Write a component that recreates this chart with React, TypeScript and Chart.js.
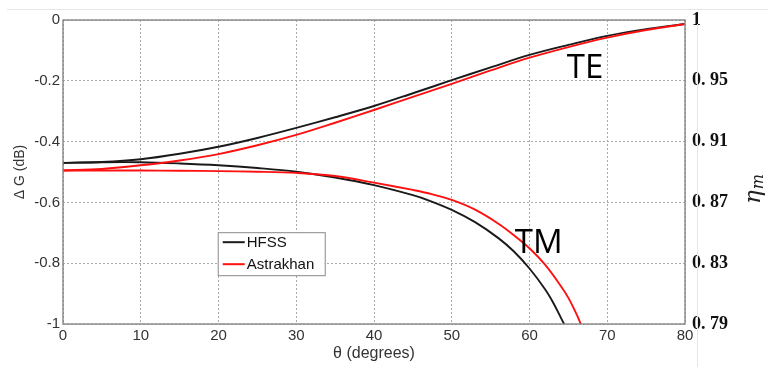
import React, { useEffect, useRef } from 'react';
import { Chart, registerables } from 'chart.js';

Chart.register(...registerables);

// ---- data ----
const teTheta = [0, 5, 10, 15, 20, 25, 30, 35, 40, 45, 50, 55, 60, 65, 70, 75, 80];
const teHfss = [-0.470, -0.467, -0.458, -0.440, -0.417, -0.388, -0.355, -0.320, -0.283, -0.241, -0.198, -0.156, -0.115, -0.082, -0.052, -0.030, -0.013];
const teAstrakhan = [-0.495, -0.490, -0.478, -0.462, -0.441, -0.412, -0.378, -0.338, -0.296, -0.253, -0.210, -0.166, -0.124, -0.089, -0.058, -0.033, -0.013];

const tmThetaHfss = [0, 5, 10, 15, 20, 25, 30, 35, 40, 45, 47, 50, 53, 56, 58, 60, 62, 63, 64, 64.45];
const tmHfss = [-0.470, -0.468, -0.468, -0.472, -0.478, -0.487, -0.499, -0.518, -0.543, -0.576, -0.593, -0.6245, -0.665, -0.7175, -0.7615, -0.8175, -0.8855, -0.9275, -0.9775, -1.0];

const tmThetaAstrakhan = [0, 5, 10, 15, 20, 25, 30, 35, 40, 45, 47, 50, 53, 56, 58, 60, 62, 64, 65, 66, 66.6];
const tmAstrakhan = [-0.495, -0.495, -0.495, -0.496, -0.497, -0.499, -0.503, -0.513, -0.535, -0.559, -0.570, -0.592, -0.624, -0.670, -0.708, -0.751, -0.805, -0.874, -0.914, -0.965, -1.0];

const seriesNames = ['HFSS', 'Astrakhan'];
const seriesColors = ['#1a1a1a', '#ff1010'];
const rightTickLabels = ['0. 79', '0. 83', '0. 87', '0. 91', '0. 95', '1'];
const modeLabels = ['TE', 'TM'];

const pts = (xs: number[], ys: number[]) => xs.map((x, i) => ({ x, y: ys[i] }));

const overlayPlugin = {
  id: 'overlay',
  afterDraw(chart: any) {
    const { ctx, chartArea: a, scales } = chart;
    const xs = scales.x;
    const ys = scales.y;
    ctx.save();

    // faint screenshot frame lines
    ctx.strokeStyle = '#e6e6e6';
    ctx.lineWidth = 1;
    ctx.beginPath();
    ctx.moveTo(7, 9.5);
    ctx.lineTo(768, 9.5);
    ctx.moveTo(697.5, 24);
    ctx.lineTo(697.5, 367);
    ctx.stroke();

    // plot box
    ctx.strokeStyle = '#858585';
    ctx.lineWidth = 1.4;
    ctx.strokeRect(a.left, a.top, a.right - a.left, a.bottom - a.top);

    // legend box
    const lx = xs.getPixelForValue(19.9);
    const ly = ys.getPixelForValue(-0.698);
    const lw = 107;
    const lh = 43;
    ctx.fillStyle = '#ffffff';
    ctx.fillRect(lx, ly, lw, lh);
    ctx.strokeStyle = '#8a8a8a';
    ctx.lineWidth = 1;
    ctx.strokeRect(lx + 0.5, ly + 0.5, lw, lh);
    ctx.font = '15px "Liberation Sans", Arial, sans-serif';
    ctx.textBaseline = 'middle';
    ctx.textAlign = 'left';
    seriesNames.forEach((name, i) => {
      const yy = ly + 10 + i * 22;
      ctx.strokeStyle = seriesColors[i];
      ctx.lineWidth = 2;
      ctx.beginPath();
      ctx.moveTo(lx + 5, yy);
      ctx.lineTo(lx + 27, yy);
      ctx.stroke();
      ctx.fillStyle = '#111';
      ctx.fillText(name, lx + 29, yy + 1);
    });

    // mode labels
    ctx.fillStyle = '#000';
    ctx.font = '33px "Open Sans", "Noto Sans", sans-serif';
    ctx.textBaseline = 'alphabetic';
    ctx.fillText(modeLabels[0], xs.getPixelForValue(64.8), ys.getPixelForValue(-0.192));
    ctx.fillText(modeLabels[1], xs.getPixelForValue(58.1), ys.getPixelForValue(-0.765));

    // right axis title eta_m (rotated, reading upward)
    ctx.translate(760, 204);
    ctx.rotate(-Math.PI / 2);
    ctx.fillStyle = '#222';
    ctx.font = 'italic 23px "DejaVu Serif", "Liberation Serif", serif';
    ctx.textBaseline = 'alphabetic';
    ctx.fillText('\u03B7', 0, 0);
    const w = ctx.measureText('\u03B7').width;
    ctx.font = 'italic 16px "DejaVu Serif", "Liberation Serif", serif';
    ctx.fillText('m', w + 1, 3);

    ctx.restore();
  },
};

export default function App() {
  const ref = useRef<HTMLCanvasElement | null>(null);

  useEffect(() => {
    if (!ref.current) return;
    Chart.defaults.font.family = '"Liberation Sans", Arial, sans-serif';
    const chart = new Chart(ref.current, {
      type: 'line',
      data: {
        datasets: [
          { label: seriesNames[1] + ' TE', data: pts(teTheta, teAstrakhan), borderColor: seriesColors[1], borderWidth: 1.9 },
          { label: seriesNames[1] + ' TM', data: pts(tmThetaAstrakhan, tmAstrakhan), borderColor: seriesColors[1], borderWidth: 1.9 },
          { label: seriesNames[0] + ' TE', data: pts(teTheta, teHfss), borderColor: seriesColors[0], borderWidth: 1.9 },
          { label: seriesNames[0] + ' TM', data: pts(tmThetaHfss, tmHfss), borderColor: seriesColors[0], borderWidth: 1.9 },
        ].map((d) => ({ ...d, pointRadius: 0, fill: false, tension: 0.35, yAxisID: 'y' })),
      },
      options: {
        responsive: false,
        animation: false,
        layout: { padding: { top: 20, left: 0, right: 0, bottom: 0 } },
        plugins: { legend: { display: false }, tooltip: { enabled: false } },
        scales: {
          x: {
            type: 'linear',
            min: 0,
            max: 80,
            ticks: { stepSize: 10, padding: 3, color: '#333', font: { size: 15 }, maxRotation: 0 },
            grid: { color: '#a8a8a8', drawTicks: false, lineWidth: 1 },
            border: { display: false, dash: [2, 2] },
            title: { display: true, text: '\u03B8 (degrees)', color: '#333', font: { size: 16 }, padding: { top: 0, bottom: 4 } },
            afterFit: (s: any) => { s.height = 43; },
          },
          y: {
            type: 'linear',
            position: 'left',
            min: -1,
            max: 0,
            ticks: { stepSize: 0.2, padding: 3, color: '#333', font: { size: 15 }, callback: (v: any) => String(Math.round(Number(v) * 10) / 10) },
            grid: { color: '#a8a8a8', drawTicks: false, lineWidth: 1 },
            border: { display: false, dash: [2, 2] },
            title: { display: true, text: '\u0394 G (dB)', color: '#333', font: { size: 14 }, padding: { top: 12, bottom: 0 } },
            afterFit: (s: any) => { s.width = 63; },
          },
          y2: {
            type: 'linear',
            position: 'right',
            min: -1,
            max: 0,
            ticks: {
              stepSize: 0.2,
              padding: 7,
              color: '#111',
              font: { size: 18, weight: 'bold', family: '"Liberation Serif", "DejaVu Serif", serif' },
              callback: (_v: any, i: number) => rightTickLabels[i],
            },
            grid: { display: false, drawTicks: false },
            border: { display: false },
            afterFit: (s: any) => { s.width = 83; },
          },
        },
      },
      plugins: [overlayPlugin],
    });
    return () => chart.destroy();
  }, []);

  return (
    <div style={{ position: 'absolute', left: 0, top: 0, width: 768, height: 367, background: '#fff' }}>
      <canvas ref={ref} width={768} height={367} style={{ display: 'block' }} />
    </div>
  );
}
